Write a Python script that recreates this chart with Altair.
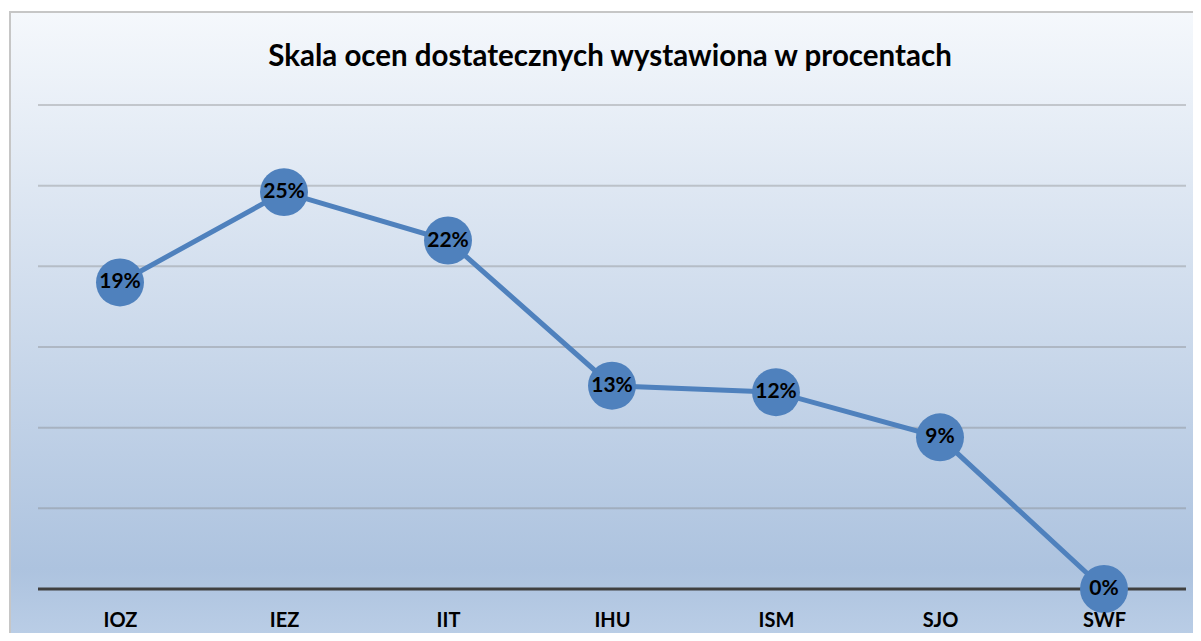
import altair as alt
import pandas as pd

categories = ["IOZ", "IEZ", "IIT", "IHU", "ISM", "SJO", "SWF"]
values = [0.19, 0.246, 0.216, 0.126, 0.122, 0.094, 0.0]
grid_values = [0.05, 0.10, 0.15, 0.20, 0.25, 0.30]
title_text = "Skala ocen dostatecznych wystawiona w procentach"

df = pd.DataFrame({"cat": categories, "val": values})

FONT = "Lato"
W, H = 1148, 484

x_enc = alt.X("cat:N", sort=None, scale=alt.Scale(paddingInner=0, paddingOuter=0),
              axis=alt.Axis(title=None, labelFont=FONT, labelFontSize=20, labelFontWeight="bold",
                            labelColor="#000000", labelPadding=21, ticks=False, domain=False,
                            labelAngle=0, grid=False, zindex=2))
y_scale = alt.Scale(domain=[0, 0.30], nice=False, zero=True)

bg = alt.Chart(pd.DataFrame({"a": [0]})).mark_rect(
    color=alt.LinearGradient(
        gradient="linear", x1=0, x2=0, y1=0, y2=1,
        stops=[alt.GradientStop(color="#f5f8fc", offset=0),
               alt.GradientStop(color="#adc3df", offset=0.88),
               alt.GradientStop(color="#bccfe7", offset=1)]),
    stroke="#c6c6c6", strokeWidth=2, clip=False
).encode(x=alt.value(-28), x2=alt.value(1180), y=alt.value(-93), y2=alt.value(540))

title = alt.Chart(pd.DataFrame({"t": [title_text]})).mark_text(
    font=FONT, fontSize=29.5, fontWeight="bold", color="#000000",
    align="center", baseline="middle", clip=False
).encode(text="t:N", x=alt.value(W / 2 - 2), y=alt.value(-48))

grid = alt.Chart(pd.DataFrame({"g": grid_values})).mark_rule(
    color="#7a7a7a", opacity=0.35, strokeWidth=2
).encode(y=alt.Y("g:Q", scale=y_scale, axis=None))

base_rule = alt.Chart(pd.DataFrame({"g": [0]})).mark_rule(
    color="#404040", strokeWidth=3
).encode(y=alt.Y("g:Q", scale=y_scale, axis=None))

base = alt.Chart(df).encode(x=x_enc, y=alt.Y("val:Q", scale=y_scale, axis=None))

line = base.mark_line(color="#4f81bd", strokeWidth=5)
pts = base.mark_circle(color="#4f81bd", opacity=1, size=2300)
txt = base.mark_text(font=FONT, fontSize=21, fontWeight="bold", color="#000000",
                     baseline="middle", align="center").encode(text=alt.Text("val:Q", format=".0%"))

chart = alt.layer(bg, title, grid, base_rule, line, pts, txt).properties(
    width=W, height=H,
    autosize=alt.AutoSizeParams(type="none"),
    padding={"left": 30, "top": 97, "right": 7, "bottom": 44},
).configure_view(stroke=None).configure(background="#ffffff")

chart.save("out.html", embed_options={"renderer": "svg", "actions": False})
